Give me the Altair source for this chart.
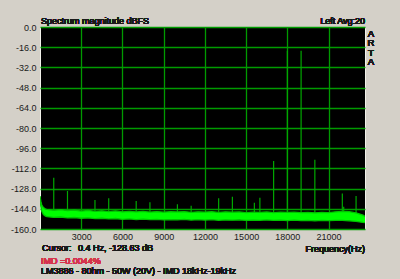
import altair as alt
import pandas as pd

# ---- data ----
SPIKE_FREQ = [1000, 2000, 4000, 5000, 7000, 8000, 10000, 11000, 13000, 14000,
              15600, 16000, 17000, 18000, 19000, 20000, 22000, 22100, 23000]
SPIKE_DB = [-119.5, -129.9, -137.0, -135.7, -137.8, -138.9, -140.4, -141.5, -135.7, -134.4,
            -139.2, -135.2, -106.1, -18.8, -18.8, -105.1, -131.9, -142.3, -133.9]

NOISE_FREQ = [0, 60, 130, 250, 400, 500, 1000, 1500, 2000, 2500, 3000, 3500, 4000, 4500,
              5000, 5500, 6000, 6500, 7000, 7500, 8000, 8500, 9000, 9500, 10000, 10500,
              11000, 11500, 12000, 12500, 13000, 13500, 14000, 14500, 15000, 15500, 16000,
              16500, 17000, 17500, 18000, 18500, 19000, 19500, 20000, 20500, 21000, 21500,
              22000, 22500, 23000, 23500, 23650]
NOISE_HI = [-134.0, -138.0, -141.0, -143.0, -144.2, -144.5, -145.2, -144.6, -145.5, -145.0,
            -145.8, -145.3, -146.0, -145.6, -146.2, -145.7, -146.4, -146.0, -146.5, -146.1,
            -146.6, -146.2, -146.7, -146.3, -146.5, -146.2, -146.8, -146.4, -146.6, -146.3,
            -146.9, -146.4, -146.7, -146.5, -147.0, -146.6, -146.8, -146.5, -147.0, -146.7,
            -146.9, -146.6, -147.1, -146.8, -147.2, -146.9, -147.0, -146.4, -146.0, -146.3,
            -147.2, -149.0, -150.0]
NOISE_LO = [-136.0, -142.0, -146.0, -148.5, -149.8, -150.2, -150.8, -150.5, -151.2, -150.9,
            -151.5, -151.2, -151.8, -151.5, -152.0, -151.7, -152.3, -152.0, -152.5, -152.2,
            -152.6, -152.3, -152.8, -152.5, -152.7, -152.4, -152.9, -152.6, -152.9, -152.6,
            -153.1, -152.8, -153.0, -152.7, -153.2, -152.9, -153.1, -152.8, -153.2, -152.9,
            -153.3, -153.0, -153.4, -153.1, -153.5, -153.2, -153.4, -153.1, -153.2, -153.5,
            -154.0, -154.8, -155.0]

X_TICKS = [3000, 6000, 9000, 12000, 15000, 18000, 21000]
Y_TICKS = [0, -16, -32, -48, -64, -80, -96, -112, -128, -144, -160]

TITLE = "Spectrum magnitude dBFS"
CHANNEL = "Left Avg:20"
BRAND = ["A", "R", "T", "A"]
CURSOR_LABEL = "Cursor:"
CURSOR_VALUE = "0.4 Hz, -128.63 dB"
X_TITLE = "Frequency(Hz)"
IMD_TEXT = "IMD =0.0044%"
NOTE = "LM3886 - 80hm - 50W (20V) - IMD 18kHz-19kHz"

FONT = "Liberation Sans"
FS = 9
BG = "#d4d0c8"
TXT = "#1a1a1a"
GRID = "#009a00"

spikes = pd.DataFrame({"f": SPIKE_FREQ, "db": SPIKE_DB})
noise = pd.DataFrame({"f": NOISE_FREQ, "hi": NOISE_HI, "lo": NOISE_LO})

xscale = alt.Scale(domain=[0, 23650], nice=False, zero=False)
yscale = alt.Scale(domain=[-160, 0], nice=False)

xaxis = alt.Axis(values=X_TICKS, format="d", title=None, grid=True, gridColor=GRID,
                 gridWidth=1.3, gridOpacity=1, ticks=False, domain=False, labelFontSize=FS,
                 labelFont=FONT, labelColor=TXT, labelPadding=3, labelOverlap=False)
yaxis = alt.Axis(values=Y_TICKS, title=None, grid=True, gridColor=GRID, gridWidth=1.3,
                 gridOpacity=1, ticks=False, domain=False, labelFontSize=FS, labelFont=FONT,
                 labelColor=TXT, labelPadding=4, labelOverlap=False,
                 labelExpr="datum.value < 0 ? '-' + format(-datum.value, '.1f') : format(datum.value, '.1f')")

X = lambda: alt.X("f:Q", scale=xscale, axis=xaxis)

rules = alt.Chart(spikes).mark_rule(color="#00a800", strokeWidth=1.2, clip=True).encode(
    x=X(),
    y=alt.Y("db:Q", scale=yscale, axis=yaxis),
    y2=alt.datum(-150),
)

band = alt.Chart(noise).mark_area(color="#00ff00", opacity=1, clip=True).encode(
    x=X(),
    y=alt.Y("hi:Q", scale=yscale, axis=yaxis),
    y2="lo:Q",
)
edge_hi = alt.Chart(noise).mark_line(color="#00c400", strokeWidth=1.3, clip=True).encode(
    x=X(), y=alt.Y("hi:Q", scale=yscale, axis=yaxis))
edge_lo = alt.Chart(noise).mark_line(color="#00c400", strokeWidth=1.3, clip=True).encode(
    x=X(), y=alt.Y("lo:Q", scale=yscale, axis=yaxis))


def label(txt, x, y, align="left", color=TXT, size=FS):
    return alt.Chart(spikes).mark_text(
        text=txt, align=align, baseline="middle", font=FONT, fontSize=size, color=color
    ).encode(x=alt.value(x), y=alt.value(y))


texts = [
    label(TITLE, 1, -6.5),
    label(CHANNEL, 325, -6.5, align="right"),
    label(CURSOR_LABEL, 2, 220.5),
    label(CURSOR_VALUE, 38, 220.5),
    label(X_TITLE, 325, 222, align="right"),
    label(IMD_TEXT, 1, 233.5, color="#d6344e"),
    label(NOTE, 1, 244),
]
arta = alt.Chart(spikes).mark_text(
    text=BRAND, align="center", baseline="top", font=FONT, fontSize=FS + 0.6, lineHeight=9.5,
    color=TXT
).encode(x=alt.value(331), y=alt.value(1.5))

chart = alt.layer(rules, band, edge_hi, edge_lo, *texts, arta).properties(
    width=325, height=202,
    padding={"left": 40, "top": 27, "right": 35, "bottom": 50},
    autosize=alt.AutoSizeParams(type="none"),
).configure(background=BG).configure_axis(labelOverlap=False).configure_view(
    fill="#000000", stroke="#f2f2ea", strokeWidth=1)

chart.save("out.html", embed_options={"renderer": "svg", "actions": False})
